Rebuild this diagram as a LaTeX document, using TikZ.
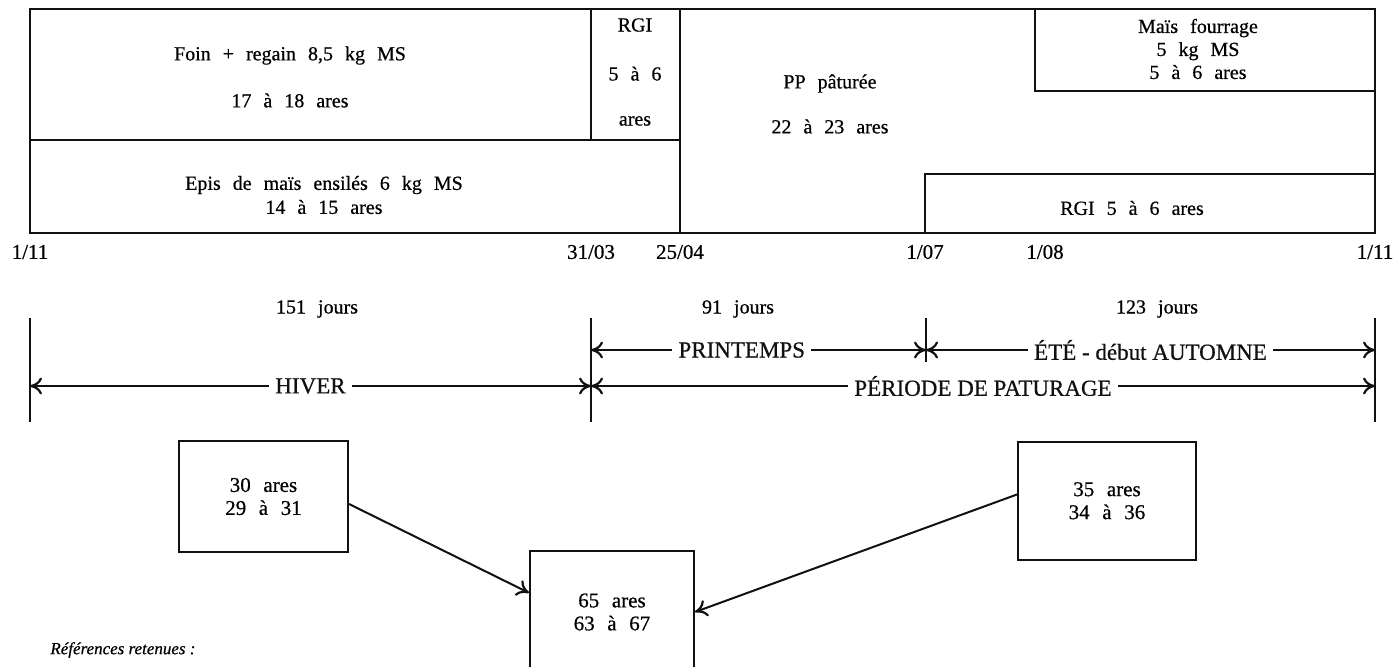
\documentclass[tikz,border=0pt]{standalone}
\usepackage{fontspec}
\setmainfont{Liberation Serif}[FakeBold=0.6]
\usepackage{tikz}
\usetikzlibrary{arrows.meta,positioning}
\definecolor{inkc}{HTML}{111111}
\newcommand{\widesp}{\spaceskip=0.6em plus 0.1em\relax}
\tikzset{
  ln/.style={line width=1pt,inkc},
  ar/.style={-{To[length=6pt,width=8.5pt,line width=1.1pt]},ln},
  dimln/.style={{To[length=6pt,width=8.5pt,line width=1.1pt]}-{To[length=6pt,width=8.5pt,line width=1.1pt]},ln},
  box/.style={draw=inkc,line width=1pt,align=center,inner sep=0pt,font=\fontsize{10.5}{11.5}\selectfont\widesp},
  txt/.style={align=center,inner sep=0pt,font=\fontsize{10}{11.5}\selectfont\widesp},
  lbl/.style={fill=white,inner xsep=3pt,inner ysep=1pt,font=\fontsize{11.5}{13}\selectfont},
  dte/.style={inner sep=0pt,font=\fontsize{10.5}{12}\selectfont}
}
\begin{document}
\begin{tikzpicture}[x=0.5pt,y=-0.5pt]
\useasboundingbox (0,0) rectangle (1396,666);
\clip (0,0) rectangle (1396,666);
% feeding calendar
\draw[ln] (30,9) rectangle (1375,233);
\draw[ln] (30,140) -- (680,140);
\draw[ln] (591,9) -- (591,140);
\draw[ln] (680,9) -- (680,233);
\draw[ln] (1035,9) -- (1035,91) -- (1375,91);
\draw[ln] (925,233) -- (925,174) -- (1375,174);
\node[txt] (foin) at (290,77) {Foin + regain 8,5 kg MS\\[12pt]17 à 18 ares};
\node[txt] (rgih) at (635,72) {RGI\\[13pt]5 à 6\\[11pt]ares};
\node[txt] (epis) at (324,195) {Epis de maïs ensilés 6 kg MS\\[0.5pt]14 à 15 ares};
\node[txt] (pp) at (830,104) {PP pâturée\\[11pt]22 à 23 ares};
\node[txt] (mais) at (1198,49) {Maïs fourrage\\5 kg MS\\5 à 6 ares};
\node[txt] (rgie) at (1132,208) {RGI 5 à 6 ares};
\foreach \x/\d/\m in {30/1/11,591/31/03,680/25/04,925/1/07,1045/1/08,1375/1/11}
  \node[dte] (d\x) at (\x,252) {\d/\m};
% periods
\node[txt] (j1) at (317,309) {151 jours};
\node[txt] (j2) at (738,309) {91 jours};
\node[txt] (j3) at (1157,309) {123 jours};
\foreach \x/\yb in {30/422,591/422,926/362,1375/422}
  \draw[ln] (\x,318) -- (\x,\yb);
\coordinate (h0) at (30,386);
\coordinate (h1) at (591,386);
\coordinate (h2) at (1375,386);
\coordinate (s0) at (591,350);
\coordinate (s1) at (926,350);
\coordinate (s2) at (1375,350);
\draw[dimln] (h0) -- node[lbl]{HIVER} (h1);
\draw[dimln] (h1) -- node[lbl]{PÉRIODE DE PATURAGE} (h2);
\draw[dimln] (s0) -- node[lbl,pos=0.45]{PRINTEMPS} (s1);
\draw[dimln] (s1) -- node[lbl]{ÉTÉ - début AUTOMNE} (s2);
% surfaces
\node[box,minimum width=84.5pt,minimum height=55.5pt] (lb) at (263.5,496.5) {30 ares\\29 à 31};
\node[box,minimum width=89pt,minimum height=59.25pt] (rb) at (1107,500.75) {35 ares\\34 à 36};
\node[box,minimum width=82pt,minimum height=61pt] (cb) at (612,612) {65 ares\\63 à 67};
\draw[ar] (lb.-5) -- (cb.167);
\draw[ar] (rb.176) -- (cb.east);
\node[anchor=west,inner sep=0pt,font=\fontsize{8.5}{10}\selectfont\itshape] (refs) at (50,650) {Références retenues :};
\end{tikzpicture}
\end{document}
